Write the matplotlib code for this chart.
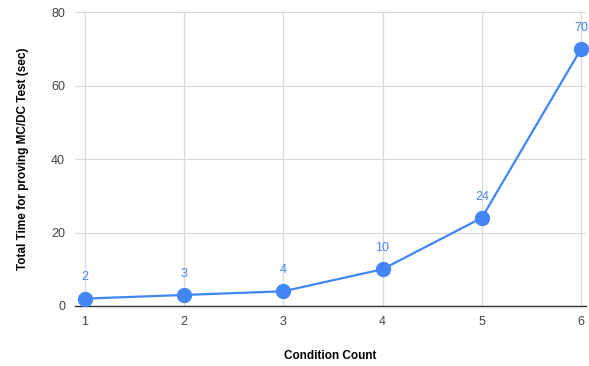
import matplotlib
matplotlib.use('Agg')
import matplotlib.pyplot as plt

plt.rcParams['font.family'] = ['Liberation Sans', 'DejaVu Sans']

# data
condition_count = [1, 2, 3, 4, 5, 6]
total_time = [2, 3, 4, 10, 24, 70]

blue = '#4285F4'

fig = plt.figure(figsize=(5.89, 3.66), dpi=100)
ax = fig.add_axes([0.127, 0.164, 0.868, 0.803])

ax.plot(condition_count, total_time, color=blue, linewidth=1.6,
        marker='o', markersize=10, zorder=3, clip_on=False)

for x, y in zip(condition_count, total_time):
    ax.annotate(str(y), (x, y), xytext=(0, 11), textcoords='offset points',
                ha='center', va='bottom', color=blue, fontsize=9)

ax.set_xlim(0.9, 6.05)
ax.set_ylim(0, 80)
ax.set_xticks(condition_count)
ax.set_yticks([0, 20, 40, 60, 80])

ax.grid(True, color='#d9d9d9', linewidth=0.9)
ax.set_axisbelow(True)
for s in ['top', 'right', 'left']:
    ax.spines[s].set_visible(False)
ax.spines['bottom'].set_color('#333333')
ax.spines['bottom'].set_linewidth(1.0)
ax.tick_params(length=0, labelsize=9, labelcolor='#444444', pad=7)

ax.set_xlabel('Condition Count', fontsize=8.5, fontweight='bold', labelpad=16)
ax.set_ylabel('Total Time for proving MC/DC Test (sec)', fontsize=8.5,
              fontweight='bold', labelpad=16)

fig.savefig('out.png', dpi=100)
